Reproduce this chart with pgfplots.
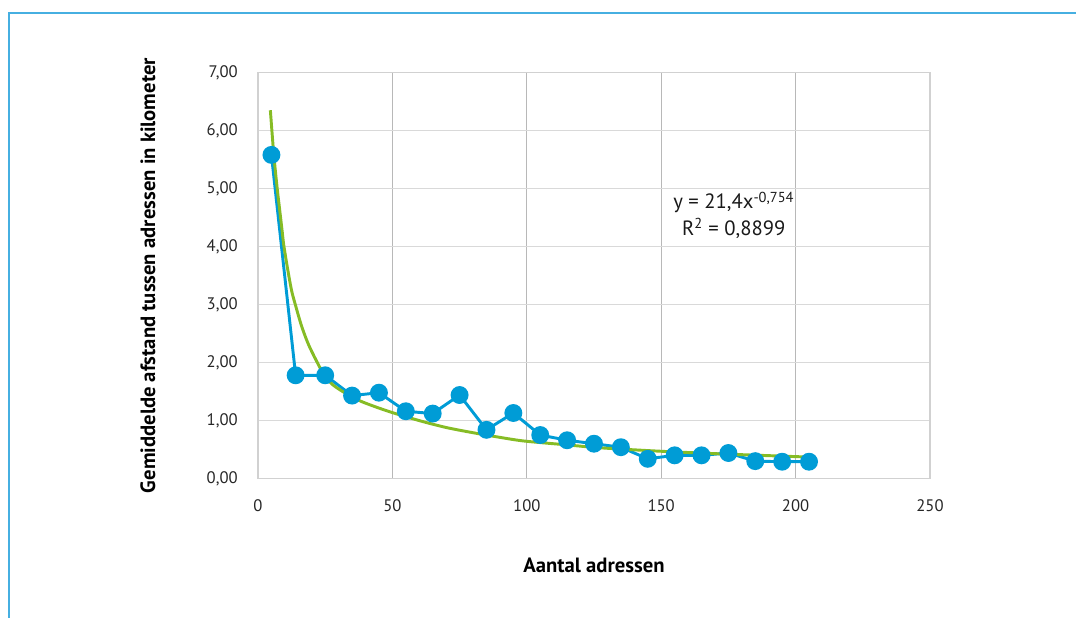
\documentclass[border=0pt]{standalone}
\usepackage{fontspec}
\setmainfont{PT Sans}
\usepackage{pgfplots}
\pgfplotsset{compat=1.18}
\definecolor{serieblue}{RGB}{0,156,214}
\definecolor{trendgreen}{RGB}{134,188,37}
\definecolor{frameblue}{RGB}{70,175,225}

\begin{document}
\begin{tikzpicture}
% 1 px of the reference = 0.75pt; axis origin at (0,0)
\path[use as bounding box] (-193.5pt,-104.6pt) rectangle (613.5pt,358.9pt);
\draw[frameblue, line width=1.5pt] (-187.1pt,-104.6pt) -- (-187.1pt,349.1pt) -- (613.5pt,349.1pt);
\begin{axis}[
  at={(0,0)}, anchor=south west,
  scale only axis, width=504pt, height=304.5pt,
  xmin=0, xmax=250, ymin=0, ymax=7,
  xtick={0,50,...,250}, ytick={0,1,...,7},
  xmajorgrids, ymajorgrids,
  x grid style={draw=black!28, line width=0.8pt},
  y grid style={draw=black!15, line width=0.8pt},
  axis line style={draw=black!18, line width=0.8pt},
  major tick length=0pt,
  tick label style={font=\fontsize{12.5}{14}\selectfont, text=black!85, inner sep=0pt},
  /pgf/number format/assume math mode=true,
  yticklabel style={anchor=east, xshift=-15pt,
    /pgf/number format/fixed, /pgf/number format/fixed zerofill,
    /pgf/number format/precision=2, /pgf/number format/use comma},
  xticklabel style={anchor=center, yshift=-20pt},
  xlabel={Aantal adressen},
  ylabel={Gemiddelde afstand tussen adressen in kilometer},
  every axis x label/.style={at={(axis description cs:0.5,-0.2135)}, anchor=center,
    font=\bfseries\fontsize{15.5}{17}\selectfont},
  every axis y label/.style={at={(axis description cs:-0.1637,0.5)}, anchor=center, rotate=90,
    font=\bfseries\fontsize{15.5}{17}\selectfont},
  clip=false,
]
\addplot[serieblue, line width=2.2pt, mark=*, mark size=5.6pt, mark options={fill=serieblue, draw=serieblue}] coordinates {
  (5,5.58) (14,1.78) (25,1.78) (35,1.43) (45,1.48) (55,1.16) (65,1.12)
  (75,1.44) (85,0.84) (95,1.13) (105,0.75) (115,0.66) (125,0.60) (135,0.54)
  (145,0.34) (155,0.40) (165,0.40) (175,0.44) (185,0.30) (195,0.29) (205,0.29)
};
% power trend line as drawn in the chart
\addplot[trendgreen, line width=2.2pt, smooth, mark=none] coordinates {
  (4.6,6.35) (5.85,5.60) (7.1,5.02) (8,4.66) (9,4.26) (9.6,4.02) (11,3.62)
  (12.5,3.24) (14,2.98) (16,2.66) (18,2.40) (20,2.19) (24.3,1.81) (28,1.61)
  (34.8,1.41) (40,1.30) (49.1,1.15) (60.3,0.995) (70,0.88) (80,0.79) (90,0.71)
  (99.3,0.645) (115,0.58) (127.2,0.53) (150,0.47) (175,0.42) (205,0.37)
};
\node[font=\fontsize{15.5}{17}\selectfont, text=black!90] at (axis cs:177,4.76) {y = 21,4x\textsuperscript{-0,754}};
\node[font=\fontsize{15.5}{17}\selectfont, text=black!90] at (axis cs:177,4.31) {R\textsuperscript{2} = 0,8899};
\end{axis}
\end{tikzpicture}
\end{document}
